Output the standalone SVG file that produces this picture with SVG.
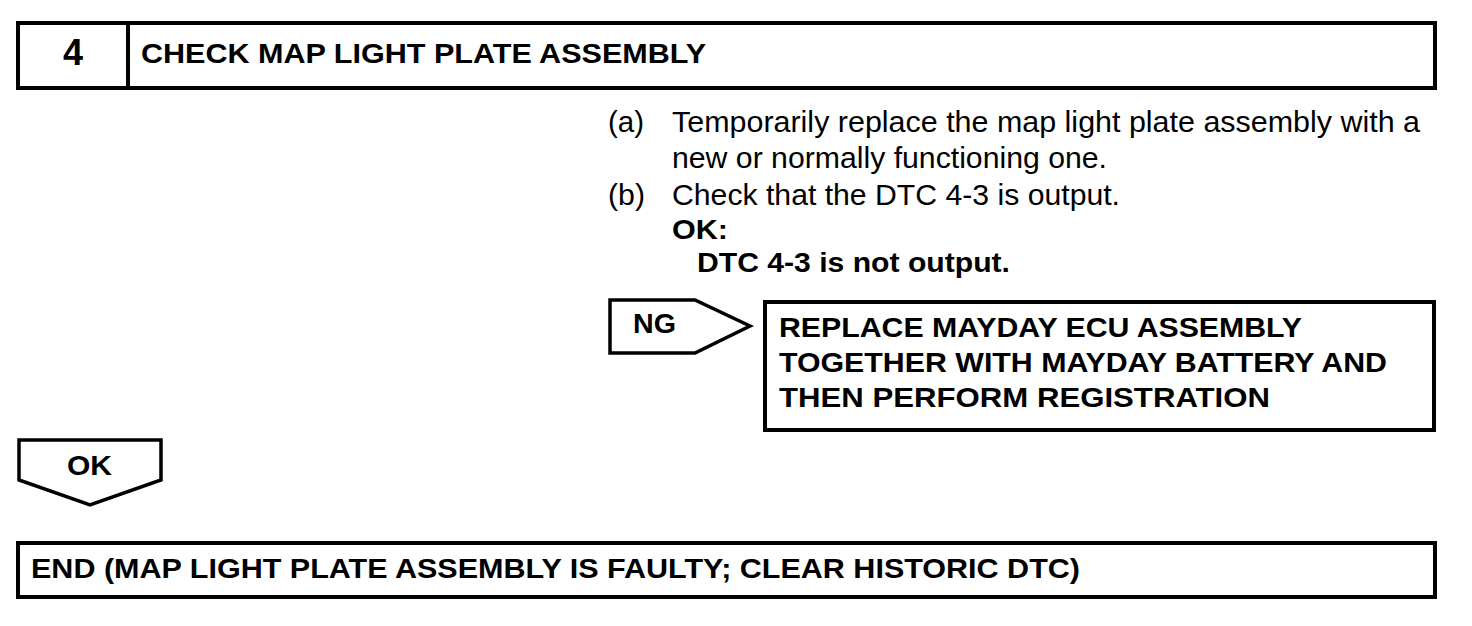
<svg xmlns="http://www.w3.org/2000/svg" width="1472" height="626" viewBox="0 0 1472 626">
<style>
.box{fill:#fff;stroke:#000;stroke-width:4}
.sh{fill:#fff;stroke:#000;stroke-width:3.5}
.b{font-family:"Liberation Sans",Arial,sans-serif;font-weight:bold;fill:#000;font-size:28px}
.r{font-family:"Liberation Sans",Arial,sans-serif;fill:#000;font-size:29px}
.num{font-size:36px}
</style>
<rect width="1472" height="626" fill="#fff"/>
<g id="step4">
<rect class="box" x="18" y="23" width="1417" height="65"/>
<line x1="128" y1="23" x2="128" y2="88" stroke="#000" stroke-width="4"/>
<text class="b num" x="73" y="65" text-anchor="middle">4</text>
<text class="b" x="141" y="63" textLength="565" lengthAdjust="spacingAndGlyphs">CHECK MAP LIGHT PLATE ASSEMBLY</text>
</g>
<g id="instructions">
<text class="r" x="608" y="132" textLength="36" lengthAdjust="spacingAndGlyphs">(a)</text>
<text class="r" x="672" y="132" textLength="748" lengthAdjust="spacingAndGlyphs">Temporarily replace the map light plate assembly with a</text>
<text class="r" x="672" y="168" textLength="435" lengthAdjust="spacingAndGlyphs">new or normally functioning one.</text>
<text class="r" x="608" y="205" textLength="37" lengthAdjust="spacingAndGlyphs">(b)</text>
<text class="r" x="672" y="205" textLength="448" lengthAdjust="spacingAndGlyphs">Check that the DTC 4-3 is output.</text>
<text class="b" x="672" y="239" textLength="56" lengthAdjust="spacingAndGlyphs">OK:</text>
<text class="b" x="697" y="272" textLength="313" lengthAdjust="spacingAndGlyphs">DTC 4-3 is not output.</text>
</g>
<g id="ng">
<polygon class="sh" points="610,300 695,300 750,326 695,353 610,353"/>
<text class="b" x="633" y="333" textLength="43" lengthAdjust="spacingAndGlyphs">NG</text>
</g>
<g id="replace">
<rect class="box" x="765" y="302" width="669" height="128"/>
<text class="b" x="779" y="337" textLength="523" lengthAdjust="spacingAndGlyphs">REPLACE MAYDAY ECU ASSEMBLY</text>
<text class="b" x="779" y="372" textLength="608" lengthAdjust="spacingAndGlyphs">TOGETHER WITH MAYDAY BATTERY AND</text>
<text class="b" x="779" y="407" textLength="491" lengthAdjust="spacingAndGlyphs">THEN PERFORM REGISTRATION</text>
</g>
<g id="ok">
<polygon class="sh" points="19,440 161,440 161,480 90,505 19,480"/>
<text class="b" x="67" y="475" textLength="45" lengthAdjust="spacingAndGlyphs">OK</text>
</g>
<g id="end">
<rect class="box" x="18" y="543" width="1417" height="54"/>
<text class="b" x="31" y="578" textLength="1049" lengthAdjust="spacingAndGlyphs">END (MAP LIGHT PLATE ASSEMBLY IS FAULTY; CLEAR HISTORIC DTC)</text>
</g>
<g id="connectors"></g>
</svg>
